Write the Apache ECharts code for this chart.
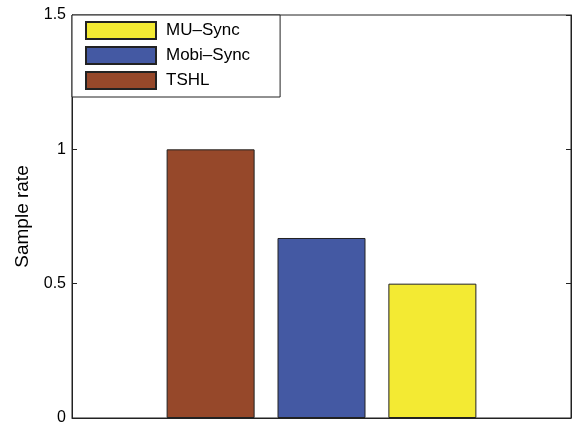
<!DOCTYPE html>
<html>
<head>
<meta charset="utf-8">
<script src="https://cdn.jsdelivr.net/npm/echarts@6/dist/echarts.min.js"></script>
<style>
  html, body { margin: 0; padding: 0; background: #fff; }
  #chart { width: 573px; height: 426px; }
</style>
</head>
<body>
<div id="chart"></div>
<script>
// Sample rate per synchronisation scheme (one group of bars, left to right)
const methods = ['TSHL', 'Mobi\u2013Sync', 'MU\u2013Sync'];
const sampleRates = [1.0, 0.67, 0.5];
// Legend lists the schemes in reverse order
const legendOrder = ['MU\u2013Sync', 'Mobi\u2013Sync', 'TSHL'];
const yTicks = { min: 0, max: 1.5, step: 0.5 };

const fillColors = ['#96482a', '#4459a3', '#f3ea33'];
const FONT = 'Liberation Sans, Arial, Helvetica, sans-serif';

const chart = echarts.init(document.getElementById('chart'), null, { renderer: 'canvas' });

const series = methods.map((name, i) => ({
  name: name,
  type: 'bar',
  data: [sampleRates[i]],
  barWidth: 88,
  barGap: '26%',
  itemStyle: { color: fillColors[i], borderColor: '#222', borderWidth: 1 },
  emphasis: { disabled: true }
}));

const yCommon = {
  type: 'value',
  min: yTicks.min,
  max: yTicks.max,
  interval: yTicks.step,
  splitLine: { show: false },
  axisLine: { show: true, lineStyle: { color: '#222', width: 1 } },
  axisTick: { show: true, inside: true, length: 5, lineStyle: { color: '#222' } }
};

chart.setOption({
  animation: false,
  backgroundColor: '#fff',
  textStyle: { fontFamily: FONT },
  grid: {
    left: 72, right: 2, top: 15, bottom: 8,
    show: true, borderColor: '#222', borderWidth: 1, backgroundColor: 'transparent'
  },
  legend: {
    data: legendOrder,
    orient: 'vertical',
    left: 72,
    top: 15,
    padding: [6, 30, 7, 13],
    itemWidth: 70,
    itemHeight: 17,
    itemGap: 6,
    backgroundColor: '#fff',
    borderColor: '#222',
    borderWidth: 1,
    borderRadius: 0,
    icon: 'rect',
    selectedMode: false,
    textStyle: { fontFamily: FONT, fontSize: 17, lineHeight: 17, color: '#000', padding: [0, 0, 0, 5] }
  },
  xAxis: {
    type: 'category',
    data: [''],
    axisLine: { show: true, lineStyle: { color: '#222' } },
    axisTick: { show: false },
    axisLabel: { show: false }
  },
  yAxis: [
    Object.assign({}, yCommon, {
      position: 'left',
      name: 'Sample rate',
      nameLocation: 'middle',
      nameGap: 40,
      nameTextStyle: { fontFamily: FONT, fontSize: 19, color: '#000' },
      axisLabel: { fontFamily: FONT, fontSize: 16, color: '#000', margin: 6 }
    }),
    Object.assign({}, yCommon, {
      position: 'right',
      axisLabel: { show: false }
    })
  ],
  series: series
});
</script>
</body>
</html>
